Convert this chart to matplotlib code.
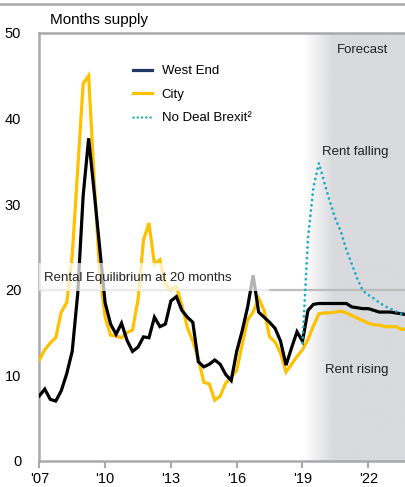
import matplotlib
matplotlib.use("Agg")
import matplotlib.pyplot as plt
import numpy as np
from matplotlib.colors import LinearSegmentedColormap
from matplotlib.lines import Line2D
from matplotlib.patches import Rectangle

plt.rcParams["font.family"] = ["Liberation Sans", "DejaVu Sans"]

# quarterly, 2007 Q1 .. 2023 Q4 (history to 2019 Q1, forecast afterwards)
quarters = [2007 + 0.25 * i for i in range(68)]

west_end = [
    7.6, 8.4, 7.2, 7.0, 8.2, 10.2, 12.8, 19.5,
    31.0, 37.7, 31.5, 25.0, 18.5, 16.0, 14.8, 16.1,
    14.1, 12.8, 13.3, 14.5, 14.4, 16.8, 15.7, 16.0,
    18.7, 19.2, 17.6, 16.8, 16.2, 11.6, 11.0, 11.3,
    11.8, 11.3, 10.1, 9.4, 12.8, 15.2, 18.0, 21.7,
    17.4, 16.8, 16.2, 15.5, 14.0, 11.2, 13.2, 15.1,
    14.0, 17.6, 18.3, 18.4, 18.4, 18.4, 18.4, 18.4,
    18.4, 18.0, 17.9, 17.8, 17.8, 17.6, 17.4, 17.4,
    17.4, 17.3, 17.2, 17.1,
]

city = [
    11.8, 13.0, 13.8, 14.4, 17.4, 18.5, 24.0, 34.0,
    44.1, 45.0, 33.0, 22.0, 16.8, 14.7, 14.6, 14.4,
    15.0, 15.3, 18.8, 25.8, 27.8, 23.0, 23.5, 20.6,
    20.0, 20.4, 18.2, 15.6, 14.0, 12.0, 9.2, 9.0,
    7.1, 7.6, 9.1, 9.8, 10.6, 13.6, 16.5, 17.4,
    19.0, 17.6, 14.5, 13.9, 12.6, 10.4, 11.3, 12.2,
    13.0, 14.2, 15.8, 17.2, 17.3, 17.3, 17.4, 17.5,
    17.3, 17.0, 16.7, 16.4, 16.1, 15.9, 15.9, 15.7,
    15.7, 15.7, 15.4, 15.4,
]

# no deal scenario starts 2019 Q1
brexit_quarters = quarters[48:]
no_deal_brexit = [
    13.8, 26.0, 32.0, 34.8, 32.5, 30.3, 28.3, 26.8,
    24.7, 23.0, 21.3, 19.9, 19.4, 19.0, 18.5, 18.1,
    17.8, 17.5, 17.2, 17.0,
]

year_ticks = [2007, 2010, 2013, 2016, 2019, 2022]
year_labels = ["'07", "'10", "'13", "'16", "'19", "'22"]
equilibrium = 20

YELLOW = "#FFC000"
TEAL = "#17AACB"
GREY = "#A9A9AD"
DOTS = (0, (0.01, 1.9))

fig = plt.figure(figsize=(4.06, 4.87), dpi=100)
ax = fig.add_axes([39.3 / 406, 1 - 461 / 487, 1 - 39.3 / 406, (461 - 33) / 487])
x_min, x_max = 2007, 2023.72
ax.set_xlim(x_min, x_max)
ax.set_ylim(0, 50)

# forecast shading: white fading into grey
fade_start = 2019.05
xs = np.linspace(fade_start, x_max, 400)
fade = np.clip((xs - fade_start) / 1.35, 0, 1)
cmap = LinearSegmentedColormap.from_list("fc", ["#FFFFFF", "#D9DADD"])
ax.imshow(fade[np.newaxis, :], cmap=cmap, vmin=0, vmax=1, aspect="auto",
          extent=[fade_start, x_max, 0, 50], zorder=0, interpolation="bilinear")

ax.axhline(equilibrium, color="#BDBDBD", lw=1.6, zorder=1)

ax.plot(quarters, city, color=YELLOW, lw=2.3, zorder=3, solid_joinstyle="miter")
ax.plot(quarters, west_end, color="black", lw=2.3, zorder=4, solid_joinstyle="miter")
ax.plot(brexit_quarters, no_deal_brexit, color=TEAL, lw=2.0, linestyle=DOTS,
        dash_capstyle="round", zorder=5)

# semi-transparent label box over the equilibrium line
ax.add_patch(Rectangle((x_min, 19.85), 2017.47 - x_min, 3.3, facecolor="white",
                       edgecolor="none", alpha=0.7, zorder=6))
ax.text(2007.22, 21.4, "Rental Equilibrium at 20 months", fontsize=9.5, va="center",
        ha="left", color="#222222", zorder=7)

ax.text(2022.9, 48.0, "Forecast", fontsize=9.5, ha="right", va="center", color="#222222")
ax.text(2022.9, 36.1, "Rent falling", fontsize=9.5, ha="right", va="center", color="#222222")
ax.text(2022.9, 10.6, "Rent rising", fontsize=9.5, ha="right", va="center", color="#222222")

handles = [
    Line2D([], [], color="#1F3864", lw=2.3),
    Line2D([], [], color=YELLOW, lw=2.3),
    Line2D([], [], color="#1AB0B8", lw=1.8, linestyle=(0, (0.01, 1.7)), dash_capstyle="round"),
]
ax.legend(handles, ["West End", "City", "No Deal Brexit²"], loc="upper left",
          bbox_to_anchor=(0.255, 0.925), frameon=False, fontsize=9.5,
          handlelength=1.45, handletextpad=0.75, labelspacing=0.85,
          borderpad=0, borderaxespad=0)

ax.set_xticks(year_ticks, year_labels)
ax.set_yticks([0, 10, 20, 30, 40, 50])
ax.tick_params(axis="x", length=5, width=1.5, color=GREY, labelsize=10.5, pad=3)
ax.tick_params(axis="y", length=0, labelsize=10.5, pad=13)
for side in ("left", "bottom", "top"):
    ax.spines[side].set_color(GREY)
    ax.spines[side].set_linewidth(1.8)
ax.spines["right"].set_visible(False)

fig.text(50 / 406, 1 - 20 / 487, "Months supply", fontsize=11, va="center", ha="left")
fig.add_artist(Line2D([0, 1], [1 - 4 / 487, 1 - 4 / 487], color=GREY, lw=1.8))

fig.savefig("out.png", dpi=100)
